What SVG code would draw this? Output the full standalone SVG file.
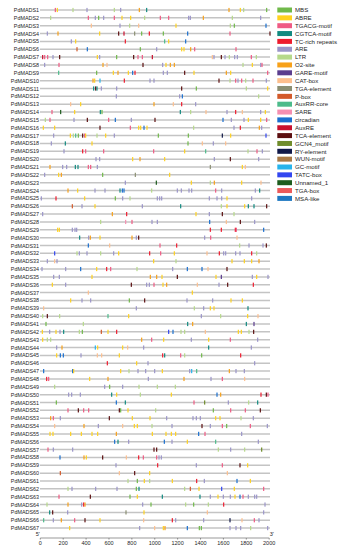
<svg xmlns="http://www.w3.org/2000/svg" xmlns:xlink="http://www.w3.org/1999/xlink" width="341" height="550" viewBox="0 0 341 550">
<style>
text{font-family:"Liberation Sans",Arial,sans-serif;fill:#262626}
.lb{font-size:5.4px;text-anchor:end}
.lg{font-size:6.1px}
.ax{font-size:5.5px;text-anchor:middle}
.bl{stroke:#c4c4c4;stroke-width:1.5}
.axl{stroke:#555;stroke-width:0.6;fill:none}
.G{fill:#70b94a}.Y{fill:#ffd21f}.PK{fill:#ef5b84}.T{fill:#128a80}.R{fill:#ee1c2e}
.L{fill:#9b95c9}.LG{fill:#b6d98a}.O{fill:#f7a11a}.DP{fill:#5b3d8e}.PE{fill:#fdbf8e}
.GO{fill:#8b8f73}.PB{fill:#d35a2a}.M{fill:#4dbb8b}.SP{fill:#f48fb1}.B{fill:#1a6fcf}
.DR{fill:#c8102e}.MA{fill:#5c0f10}.OL{fill:#6f8c2b}.N{fill:#101848}.W{fill:#a97a46}
.LB{fill:#27b4ec}.BB{fill:#3346f0}.DG{fill:#1d5c1d}.S{fill:#ec5a5a}.MB{fill:#1f78c1}
</style>
<defs>
<rect id="m" x="-1.8" y="-2.1" width="3.6" height="4.2"/>
<path id="ln" d="M40 0H270"/>
</defs>
<g id="rows">
<g id="PdMADS1" transform="translate(0,10)"><text class="lb" x="39" y="2">PdMADS1</text><use xlink:href="#ln" class="bl"/><g transform="translate(38,0) scale(0.33333,1)"><use xlink:href="#m" x="52" class="PK"/><use xlink:href="#m" x="58" class="Y"/><use xlink:href="#m" x="105" class="LG"/><use xlink:href="#m" x="147" class="L"/><use xlink:href="#m" x="229" class="LG"/><use xlink:href="#m" x="248" class="L"/><use xlink:href="#m" x="304" class="O"/><use xlink:href="#m" x="326" class="T"/><use xlink:href="#m" x="573" class="O"/><use xlink:href="#m" x="607" class="Y"/><use xlink:href="#m" x="617" class="LG"/><use xlink:href="#m" x="686" class="G"/></g></g>
<g id="PdMADS2" transform="translate(0,17.85)"><text class="lb" x="39" y="2">PdMADS2</text><use xlink:href="#ln" class="bl"/><g transform="translate(38,0) scale(0.33333,1)"><use xlink:href="#m" x="38" class="LG"/><use xlink:href="#m" x="151" class="PK"/><use xlink:href="#m" x="172" class="L"/><use xlink:href="#m" x="182" class="G"/><use xlink:href="#m" x="197" class="L"/><use xlink:href="#m" x="229" class="PK"/><use xlink:href="#m" x="252" class="Y"/><use xlink:href="#m" x="278" class="Y"/><use xlink:href="#m" x="320" class="LG"/><use xlink:href="#m" x="367" class="PK"/><use xlink:href="#m" x="392" class="PK"/><use xlink:href="#m" x="452" class="L"/><use xlink:href="#m" x="457" class="L"/><use xlink:href="#m" x="496" class="O"/><use xlink:href="#m" x="583" class="LG"/><use xlink:href="#m" x="668" class="L"/></g></g>
<g id="PdMADS3" transform="translate(0,25.7)"><text class="lb" x="39" y="2">PdMADS3</text><use xlink:href="#ln" class="bl"/><g transform="translate(38,0) scale(0.33333,1)"><use xlink:href="#m" x="160" class="PE"/><use xlink:href="#m" x="246" class="L"/><use xlink:href="#m" x="275" class="LG"/><use xlink:href="#m" x="302" class="PE"/><use xlink:href="#m" x="414" class="Y"/><use xlink:href="#m" x="577" class="LG"/><use xlink:href="#m" x="589" class="G"/><use xlink:href="#m" x="684" class="B"/></g></g>
<g id="PdMADS4" transform="translate(0,33.55)"><text class="lb" x="39" y="2">PdMADS4</text><use xlink:href="#ln" class="bl"/><g transform="translate(38,0) scale(0.33333,1)"><use xlink:href="#m" x="28" class="L"/><use xlink:href="#m" x="60" class="O"/><use xlink:href="#m" x="185" class="Y"/><use xlink:href="#m" x="242" class="MA"/><use xlink:href="#m" x="258" class="DR"/><use xlink:href="#m" x="290" class="GO"/><use xlink:href="#m" x="311" class="G"/><use xlink:href="#m" x="334" class="R"/><use xlink:href="#m" x="376" class="G"/><use xlink:href="#m" x="449" class="B"/><use xlink:href="#m" x="576" class="PK"/><use xlink:href="#m" x="696" class="MA"/></g></g>
<g id="PdMADS5" transform="translate(0,41.4)"><text class="lb" x="39" y="2">PdMADS5</text><use xlink:href="#ln" class="bl"/><g transform="translate(38,0) scale(0.33333,1)"><use xlink:href="#m" x="100" class="L"/><use xlink:href="#m" x="113" class="Y"/><use xlink:href="#m" x="262" class="R"/><use xlink:href="#m" x="380" class="M"/><use xlink:href="#m" x="392" class="Y"/><use xlink:href="#m" x="443" class="B"/></g></g>
<g id="PdMADS6" transform="translate(0,49.25)"><text class="lb" x="39" y="2">PdMADS6</text><use xlink:href="#ln" class="bl"/><g transform="translate(38,0) scale(0.33333,1)"><use xlink:href="#m" x="117" class="PB"/><use xlink:href="#m" x="148" class="B"/><use xlink:href="#m" x="307" class="G"/><use xlink:href="#m" x="356" class="L"/><use xlink:href="#m" x="431" class="Y"/><use xlink:href="#m" x="438" class="Y"/><use xlink:href="#m" x="458" class="O"/><use xlink:href="#m" x="470" class="PK"/><use xlink:href="#m" x="594" class="PK"/></g></g>
<g id="PdMADS7" transform="translate(0,57.1)"><text class="lb" x="39" y="2">PdMADS7</text><use xlink:href="#ln" class="bl"/><g transform="translate(38,0) scale(0.33333,1)"><use xlink:href="#m" x="14" class="DR"/><use xlink:href="#m" x="20" class="PK"/><use xlink:href="#m" x="29" class="PK"/><use xlink:href="#m" x="45" class="L"/><use xlink:href="#m" x="65" class="MA"/><use xlink:href="#m" x="178" class="Y"/><use xlink:href="#m" x="185" class="L"/><use xlink:href="#m" x="236" class="G"/><use xlink:href="#m" x="287" class="MA"/><use xlink:href="#m" x="300" class="PK"/><use xlink:href="#m" x="313" class="PK"/><use xlink:href="#m" x="343" class="DR"/><use xlink:href="#m" x="523" class="PE"/><use xlink:href="#m" x="528" class="L"/><use xlink:href="#m" x="550" class="MA"/><use xlink:href="#m" x="561" class="L"/><use xlink:href="#m" x="574" class="LG"/><use xlink:href="#m" x="590" class="L"/><use xlink:href="#m" x="598" class="L"/><use xlink:href="#m" x="640" class="PK"/><use xlink:href="#m" x="655" class="LG"/></g></g>
<g id="PdMADS8" transform="translate(0,64.95)"><text class="lb" x="39" y="2">PdMADS8</text><use xlink:href="#ln" class="bl"/><g transform="translate(38,0) scale(0.33333,1)"><use xlink:href="#m" x="20" class="L"/><use xlink:href="#m" x="63" class="PK"/><use xlink:href="#m" x="195" class="O"/><use xlink:href="#m" x="207" class="PE"/><use xlink:href="#m" x="315" class="MA"/><use xlink:href="#m" x="374" class="L"/><use xlink:href="#m" x="384" class="Y"/><use xlink:href="#m" x="397" class="O"/><use xlink:href="#m" x="409" class="O"/><use xlink:href="#m" x="615" class="LG"/><use xlink:href="#m" x="643" class="Y"/><use xlink:href="#m" x="668" class="L"/><use xlink:href="#m" x="672" class="PK"/></g></g>
<g id="PdMADS9" transform="translate(0,72.8)"><text class="lb" x="39" y="2">PdMADS9</text><use xlink:href="#ln" class="bl"/><g transform="translate(38,0) scale(0.33333,1)"><use xlink:href="#m" x="62" class="M"/><use xlink:href="#m" x="176" class="G"/><use xlink:href="#m" x="226" class="Y"/><use xlink:href="#m" x="240" class="O"/><use xlink:href="#m" x="271" class="Y"/><use xlink:href="#m" x="284" class="B"/><use xlink:href="#m" x="291" class="R"/><use xlink:href="#m" x="376" class="L"/><use xlink:href="#m" x="388" class="L"/><use xlink:href="#m" x="440" class="MA"/><use xlink:href="#m" x="468" class="Y"/><use xlink:href="#m" x="565" class="O"/><use xlink:href="#m" x="578" class="Y"/><use xlink:href="#m" x="689" class="PK"/></g></g>
<g id="PdMADS10" transform="translate(0,80.65)"><text class="lb" x="39" y="2">PdMADS10</text><use xlink:href="#ln" class="bl"/><g transform="translate(38,0) scale(0.33333,1)"><use xlink:href="#m" x="165" class="O"/><use xlink:href="#m" x="170" class="Y"/><use xlink:href="#m" x="186" class="LB"/><use xlink:href="#m" x="259" class="R"/><use xlink:href="#m" x="336" class="L"/><use xlink:href="#m" x="348" class="L"/><use xlink:href="#m" x="543" class="MA"/><use xlink:href="#m" x="576" class="LG"/><use xlink:href="#m" x="593" class="PK"/><use xlink:href="#m" x="600" class="L"/><use xlink:href="#m" x="611" class="PK"/><use xlink:href="#m" x="623" class="LG"/><use xlink:href="#m" x="645" class="PK"/><use xlink:href="#m" x="685" class="L"/></g></g>
<g id="PdMADS11" transform="translate(0,88.5)"><text class="lb" x="39" y="2">PdMADS11</text><use xlink:href="#ln" class="bl"/><g transform="translate(38,0) scale(0.33333,1)"><use xlink:href="#m" x="167" class="T"/><use xlink:href="#m" x="173" class="MA"/><use xlink:href="#m" x="177" class="T"/><use xlink:href="#m" x="190" class="L"/><use xlink:href="#m" x="236" class="L"/><use xlink:href="#m" x="431" class="MA"/><use xlink:href="#m" x="475" class="G"/><use xlink:href="#m" x="625" class="LG"/><use xlink:href="#m" x="689" class="Y"/></g></g>
<g id="PdMADS12" transform="translate(0,96.35)"><text class="lb" x="39" y="2">PdMADS12</text><use xlink:href="#ln" class="bl"/><g transform="translate(38,0) scale(0.33333,1)"><use xlink:href="#m" x="235" class="L"/><use xlink:href="#m" x="425" class="L"/><use xlink:href="#m" x="433" class="B"/><use xlink:href="#m" x="662" class="LG"/></g></g>
<g id="PdMADS13" transform="translate(0,104.2)"><text class="lb" x="39" y="2">PdMADS13</text><use xlink:href="#ln" class="bl"/><g transform="translate(38,0) scale(0.33333,1)"><use xlink:href="#m" x="98" class="PE"/><use xlink:href="#m" x="128" class="Y"/><use xlink:href="#m" x="348" class="O"/><use xlink:href="#m" x="406" class="PE"/><use xlink:href="#m" x="431" class="R"/><use xlink:href="#m" x="473" class="L"/></g></g>
<g id="PdMADS14" transform="translate(0,112.05)"><text class="lb" x="39" y="2">PdMADS14</text><use xlink:href="#ln" class="bl"/><g transform="translate(38,0) scale(0.33333,1)"><use xlink:href="#m" x="42" class="PK"/><use xlink:href="#m" x="68" class="DG"/><use xlink:href="#m" x="110" class="Y"/><use xlink:href="#m" x="187" class="T"/><use xlink:href="#m" x="192" class="G"/><use xlink:href="#m" x="427" class="T"/><use xlink:href="#m" x="458" class="LG"/><use xlink:href="#m" x="504" class="PE"/><use xlink:href="#m" x="567" class="L"/><use xlink:href="#m" x="593" class="R"/><use xlink:href="#m" x="613" class="PE"/><use xlink:href="#m" x="668" class="L"/><use xlink:href="#m" x="682" class="Y"/></g></g>
<g id="PdMADS15" transform="translate(0,119.9)"><text class="lb" x="39" y="2">PdMADS15</text><use xlink:href="#ln" class="bl"/><g transform="translate(38,0) scale(0.33333,1)"><use xlink:href="#m" x="22" class="LG"/><use xlink:href="#m" x="36" class="PK"/><use xlink:href="#m" x="108" class="L"/><use xlink:href="#m" x="148" class="MA"/><use xlink:href="#m" x="212" class="PK"/><use xlink:href="#m" x="232" class="B"/><use xlink:href="#m" x="280" class="L"/><use xlink:href="#m" x="351" class="MA"/><use xlink:href="#m" x="555" class="B"/><use xlink:href="#m" x="580" class="L"/><use xlink:href="#m" x="618" class="L"/><use xlink:href="#m" x="631" class="Y"/><use xlink:href="#m" x="668" class="Y"/><use xlink:href="#m" x="686" class="PK"/></g></g>
<g id="PdMADS16" transform="translate(0,127.75)"><text class="lb" x="39" y="2">PdMADS16</text><use xlink:href="#ln" class="bl"/><g transform="translate(38,0) scale(0.33333,1)"><use xlink:href="#m" x="16" class="Y"/><use xlink:href="#m" x="50" class="Y"/><use xlink:href="#m" x="186" class="MA"/><use xlink:href="#m" x="277" class="PK"/><use xlink:href="#m" x="302" class="Y"/><use xlink:href="#m" x="308" class="Y"/><use xlink:href="#m" x="318" class="B"/><use xlink:href="#m" x="327" class="Y"/><use xlink:href="#m" x="467" class="LG"/><use xlink:href="#m" x="588" class="L"/><use xlink:href="#m" x="607" class="R"/><use xlink:href="#m" x="664" class="O"/><use xlink:href="#m" x="671" class="L"/></g></g>
<g id="PdMADS17" transform="translate(0,135.6)"><text class="lb" x="39" y="2">PdMADS17</text><use xlink:href="#ln" class="bl"/><g transform="translate(38,0) scale(0.33333,1)"><use xlink:href="#m" x="47" class="L"/><use xlink:href="#m" x="97" class="Y"/><use xlink:href="#m" x="106" class="LG"/><use xlink:href="#m" x="113" class="M"/><use xlink:href="#m" x="121" class="G"/><use xlink:href="#m" x="134" class="MA"/><use xlink:href="#m" x="140" class="PK"/><use xlink:href="#m" x="143" class="Y"/><use xlink:href="#m" x="177" class="LG"/><use xlink:href="#m" x="203" class="Y"/><use xlink:href="#m" x="229" class="L"/><use xlink:href="#m" x="361" class="G"/><use xlink:href="#m" x="451" class="G"/><use xlink:href="#m" x="553" class="N"/><use xlink:href="#m" x="578" class="Y"/><use xlink:href="#m" x="684" class="BB"/></g></g>
<g id="PdMADS18" transform="translate(0,143.45)"><text class="lb" x="39" y="2">PdMADS18</text><use xlink:href="#ln" class="bl"/><g transform="translate(38,0) scale(0.33333,1)"><use xlink:href="#m" x="40" class="L"/><use xlink:href="#m" x="82" class="T"/><use xlink:href="#m" x="162" class="Y"/><use xlink:href="#m" x="450" class="G"/><use xlink:href="#m" x="493" class="PE"/><use xlink:href="#m" x="526" class="L"/><use xlink:href="#m" x="563" class="PE"/></g></g>
<g id="PdMADS19" transform="translate(0,151.3)"><text class="lb" x="39" y="2">PdMADS19</text><use xlink:href="#ln" class="bl"/><g transform="translate(38,0) scale(0.33333,1)"><use xlink:href="#m" x="78" class="L"/><use xlink:href="#m" x="134" class="R"/><use xlink:href="#m" x="143" class="PK"/><use xlink:href="#m" x="197" class="PK"/><use xlink:href="#m" x="347" class="PK"/><use xlink:href="#m" x="440" class="Y"/><use xlink:href="#m" x="503" class="M"/><use xlink:href="#m" x="630" class="LG"/><use xlink:href="#m" x="657" class="PK"/><use xlink:href="#m" x="673" class="L"/></g></g>
<g id="PdMADS20" transform="translate(0,159.15)"><text class="lb" x="39" y="2">PdMADS20</text><use xlink:href="#ln" class="bl"/><g transform="translate(38,0) scale(0.33333,1)"><use xlink:href="#m" x="174" class="L"/><use xlink:href="#m" x="185" class="L"/><use xlink:href="#m" x="284" class="Y"/><use xlink:href="#m" x="306" class="O"/><use xlink:href="#m" x="380" class="Y"/><use xlink:href="#m" x="529" class="L"/><use xlink:href="#m" x="577" class="MA"/><use xlink:href="#m" x="662" class="L"/></g></g>
<g id="PdMADS21" transform="translate(0,167)"><text class="lb" x="39" y="2">PdMADS21</text><use xlink:href="#ln" class="bl"/><g transform="translate(38,0) scale(0.33333,1)"><use xlink:href="#m" x="36" class="O"/><use xlink:href="#m" x="74" class="L"/><use xlink:href="#m" x="86" class="L"/><use xlink:href="#m" x="112" class="T"/><use xlink:href="#m" x="120" class="T"/><use xlink:href="#m" x="151" class="PK"/><use xlink:href="#m" x="158" class="PK"/><use xlink:href="#m" x="178" class="L"/><use xlink:href="#m" x="517" class="GO"/><use xlink:href="#m" x="613" class="Y"/><use xlink:href="#m" x="622" class="PE"/></g></g>
<g id="PdMADS22" transform="translate(0,174.85)"><text class="lb" x="39" y="2">PdMADS22</text><use xlink:href="#ln" class="bl"/><g transform="translate(38,0) scale(0.33333,1)"><use xlink:href="#m" x="20" class="L"/><use xlink:href="#m" x="62" class="Y"/><use xlink:href="#m" x="70" class="O"/><use xlink:href="#m" x="194" class="G"/><use xlink:href="#m" x="292" class="GO"/><use xlink:href="#m" x="395" class="Y"/></g></g>
<g id="PdMADS23" transform="translate(0,182.7)"><text class="lb" x="39" y="2">PdMADS23</text><use xlink:href="#ln" class="bl"/><g transform="translate(38,0) scale(0.33333,1)"><use xlink:href="#m" x="262" class="L"/><use xlink:href="#m" x="355" class="DG"/><use xlink:href="#m" x="460" class="Y"/><use xlink:href="#m" x="517" class="LG"/><use xlink:href="#m" x="529" class="O"/><use xlink:href="#m" x="611" class="Y"/><use xlink:href="#m" x="669" class="PE"/></g></g>
<g id="PdMADS24" transform="translate(0,190.55)"><text class="lb" x="39" y="2">PdMADS24</text><use xlink:href="#ln" class="bl"/><g transform="translate(38,0) scale(0.33333,1)"><use xlink:href="#m" x="90" class="O"/><use xlink:href="#m" x="119" class="Y"/><use xlink:href="#m" x="171" class="L"/><use xlink:href="#m" x="201" class="L"/><use xlink:href="#m" x="246" class="T"/><use xlink:href="#m" x="253" class="B"/><use xlink:href="#m" x="258" class="B"/><use xlink:href="#m" x="341" class="LG"/><use xlink:href="#m" x="418" class="L"/><use xlink:href="#m" x="430" class="L"/><use xlink:href="#m" x="453" class="L"/><use xlink:href="#m" x="461" class="L"/><use xlink:href="#m" x="533" class="PK"/><use xlink:href="#m" x="551" class="L"/><use xlink:href="#m" x="652" class="L"/><use xlink:href="#m" x="665" class="T"/></g></g>
<g id="PdMADS25" transform="translate(0,198.4)"><text class="lb" x="39" y="2">PdMADS25</text><use xlink:href="#ln" class="bl"/><g transform="translate(38,0) scale(0.33333,1)"><use xlink:href="#m" x="10" class="L"/><use xlink:href="#m" x="54" class="R"/><use xlink:href="#m" x="140" class="Y"/><use xlink:href="#m" x="232" class="G"/><use xlink:href="#m" x="254" class="L"/><use xlink:href="#m" x="276" class="LG"/><use xlink:href="#m" x="358" class="L"/><use xlink:href="#m" x="365" class="L"/><use xlink:href="#m" x="371" class="L"/><use xlink:href="#m" x="514" class="L"/><use xlink:href="#m" x="537" class="L"/><use xlink:href="#m" x="551" class="L"/><use xlink:href="#m" x="567" class="Y"/><use xlink:href="#m" x="641" class="L"/></g></g>
<g id="PdMADS26" transform="translate(0,206.25)"><text class="lb" x="39" y="2">PdMADS26</text><use xlink:href="#ln" class="bl"/><g transform="translate(38,0) scale(0.33333,1)"><use xlink:href="#m" x="103" class="PB"/><use xlink:href="#m" x="132" class="L"/><use xlink:href="#m" x="171" class="Y"/><use xlink:href="#m" x="313" class="L"/><use xlink:href="#m" x="428" class="T"/><use xlink:href="#m" x="550" class="LG"/><use xlink:href="#m" x="567" class="Y"/><use xlink:href="#m" x="620" class="Y"/><use xlink:href="#m" x="631" class="T"/><use xlink:href="#m" x="648" class="T"/><use xlink:href="#m" x="686" class="MA"/></g></g>
<g id="PdMADS27" transform="translate(0,214.1)"><text class="lb" x="39" y="2">PdMADS27</text><use xlink:href="#ln" class="bl"/><g transform="translate(38,0) scale(0.33333,1)"><use xlink:href="#m" x="14" class="L"/><use xlink:href="#m" x="223" class="O"/><use xlink:href="#m" x="266" class="R"/><use xlink:href="#m" x="474" class="Y"/><use xlink:href="#m" x="514" class="L"/><use xlink:href="#m" x="553" class="MA"/><use xlink:href="#m" x="588" class="LG"/></g></g>
<g id="PdMADS28" transform="translate(0,221.95)"><text class="lb" x="39" y="2">PdMADS28</text><use xlink:href="#ln" class="bl"/><g transform="translate(38,0) scale(0.33333,1)"><use xlink:href="#m" x="188" class="LG"/><use xlink:href="#m" x="263" class="SP"/><use xlink:href="#m" x="282" class="PK"/><use xlink:href="#m" x="342" class="L"/><use xlink:href="#m" x="358" class="L"/><use xlink:href="#m" x="515" class="B"/><use xlink:href="#m" x="565" class="PE"/><use xlink:href="#m" x="607" class="MA"/><use xlink:href="#m" x="650" class="L"/></g></g>
<g id="PdMADS29" transform="translate(0,229.8)"><text class="lb" x="39" y="2">PdMADS29</text><use xlink:href="#ln" class="bl"/><g transform="translate(38,0) scale(0.33333,1)"><use xlink:href="#m" x="59" class="Y"/><use xlink:href="#m" x="64" class="Y"/><use xlink:href="#m" x="103" class="L"/><use xlink:href="#m" x="111" class="L"/><use xlink:href="#m" x="116" class="L"/><use xlink:href="#m" x="517" class="R"/><use xlink:href="#m" x="550" class="R"/><use xlink:href="#m" x="592" class="R"/><use xlink:href="#m" x="595" class="PK"/><use xlink:href="#m" x="677" class="B"/></g></g>
<g id="PdMADS30" transform="translate(0,237.65)"><text class="lb" x="39" y="2">PdMADS30</text><use xlink:href="#ln" class="bl"/><g transform="translate(38,0) scale(0.33333,1)"><use xlink:href="#m" x="125" class="T"/><use xlink:href="#m" x="152" class="L"/><use xlink:href="#m" x="157" class="O"/><use xlink:href="#m" x="186" class="Y"/><use xlink:href="#m" x="282" class="O"/><use xlink:href="#m" x="295" class="L"/><use xlink:href="#m" x="302" class="MA"/><use xlink:href="#m" x="500" class="L"/><use xlink:href="#m" x="518" class="PK"/><use xlink:href="#m" x="597" class="PE"/></g></g>
<g id="PdMADS31" transform="translate(0,245.5)"><text class="lb" x="39" y="2">PdMADS31</text><use xlink:href="#ln" class="bl"/><g transform="translate(38,0) scale(0.33333,1)"><use xlink:href="#m" x="151" class="B"/><use xlink:href="#m" x="215" class="PE"/><use xlink:href="#m" x="366" class="PK"/><use xlink:href="#m" x="416" class="R"/><use xlink:href="#m" x="605" class="LG"/><use xlink:href="#m" x="633" class="L"/><use xlink:href="#m" x="675" class="L"/><use xlink:href="#m" x="685" class="MA"/></g></g>
<g id="PdMADS32" transform="translate(0,253.35)"><text class="lb" x="39" y="2">PdMADS32</text><use xlink:href="#ln" class="bl"/><g transform="translate(38,0) scale(0.33333,1)"><use xlink:href="#m" x="50" class="BB"/><use xlink:href="#m" x="117" class="LG"/><use xlink:href="#m" x="124" class="L"/><use xlink:href="#m" x="147" class="L"/><use xlink:href="#m" x="188" class="LG"/><use xlink:href="#m" x="227" class="L"/><use xlink:href="#m" x="242" class="Y"/><use xlink:href="#m" x="335" class="R"/><use xlink:href="#m" x="368" class="PK"/><use xlink:href="#m" x="409" class="Y"/><use xlink:href="#m" x="507" class="PE"/><use xlink:href="#m" x="544" class="R"/><use xlink:href="#m" x="557" class="L"/><use xlink:href="#m" x="563" class="L"/><use xlink:href="#m" x="593" class="L"/><use xlink:href="#m" x="606" class="L"/><use xlink:href="#m" x="641" class="R"/><use xlink:href="#m" x="656" class="LG"/></g></g>
<g id="PdMADS33" transform="translate(0,261.2)"><text class="lb" x="39" y="2">PdMADS33</text><use xlink:href="#ln" class="bl"/><g transform="translate(38,0) scale(0.33333,1)"><use xlink:href="#m" x="28" class="L"/><use xlink:href="#m" x="50" class="PE"/><use xlink:href="#m" x="57" class="L"/><use xlink:href="#m" x="347" class="Y"/><use xlink:href="#m" x="414" class="LG"/><use xlink:href="#m" x="582" class="Y"/><use xlink:href="#m" x="619" class="Y"/><use xlink:href="#m" x="641" class="Y"/><use xlink:href="#m" x="663" class="O"/></g></g>
<g id="PdMADS34" transform="translate(0,269.05)"><text class="lb" x="39" y="2">PdMADS34</text><use xlink:href="#ln" class="bl"/><g transform="translate(38,0) scale(0.33333,1)"><use xlink:href="#m" x="12" class="L"/><use xlink:href="#m" x="83" class="L"/><use xlink:href="#m" x="128" class="B"/><use xlink:href="#m" x="176" class="Y"/><use xlink:href="#m" x="206" class="R"/><use xlink:href="#m" x="218" class="PK"/><use xlink:href="#m" x="297" class="LG"/><use xlink:href="#m" x="404" class="L"/><use xlink:href="#m" x="448" class="B"/><use xlink:href="#m" x="492" class="B"/><use xlink:href="#m" x="510" class="PE"/><use xlink:href="#m" x="567" class="MA"/></g></g>
<g id="PdMADS35" transform="translate(0,276.9)"><text class="lb" x="39" y="2">PdMADS35</text><use xlink:href="#ln" class="bl"/><g transform="translate(38,0) scale(0.33333,1)"><use xlink:href="#m" x="47" class="L"/><use xlink:href="#m" x="64" class="L"/><use xlink:href="#m" x="162" class="Y"/><use xlink:href="#m" x="337" class="O"/><use xlink:href="#m" x="356" class="O"/><use xlink:href="#m" x="372" class="Y"/><use xlink:href="#m" x="418" class="MA"/><use xlink:href="#m" x="534" class="Y"/><use xlink:href="#m" x="550" class="DP"/><use xlink:href="#m" x="643" class="L"/><use xlink:href="#m" x="656" class="Y"/><use xlink:href="#m" x="690" class="L"/></g></g>
<g id="PdMADS36" transform="translate(0,284.75)"><text class="lb" x="39" y="2">PdMADS36</text><use xlink:href="#ln" class="bl"/><g transform="translate(38,0) scale(0.33333,1)"><use xlink:href="#m" x="43" class="Y"/><use xlink:href="#m" x="83" class="L"/><use xlink:href="#m" x="280" class="MA"/><use xlink:href="#m" x="326" class="L"/><use xlink:href="#m" x="334" class="L"/><use xlink:href="#m" x="348" class="PK"/><use xlink:href="#m" x="375" class="Y"/><use xlink:href="#m" x="386" class="O"/><use xlink:href="#m" x="478" class="PE"/><use xlink:href="#m" x="543" class="L"/><use xlink:href="#m" x="569" class="MA"/><use xlink:href="#m" x="646" class="R"/></g></g>
<g id="PdMADS37" transform="translate(0,292.6)"><text class="lb" x="39" y="2">PdMADS37</text><use xlink:href="#ln" class="bl"/><g transform="translate(38,0) scale(0.33333,1)"><use xlink:href="#m" x="151" class="PE"/><use xlink:href="#m" x="463" class="Y"/></g></g>
<g id="PdMADS38" transform="translate(0,300.45)"><text class="lb" x="39" y="2">PdMADS38</text><use xlink:href="#ln" class="bl"/><g transform="translate(38,0) scale(0.33333,1)"><use xlink:href="#m" x="98" class="Y"/><use xlink:href="#m" x="132" class="L"/><use xlink:href="#m" x="158" class="L"/><use xlink:href="#m" x="274" class="G"/><use xlink:href="#m" x="320" class="MA"/><use xlink:href="#m" x="447" class="L"/><use xlink:href="#m" x="524" class="L"/><use xlink:href="#m" x="579" class="Y"/><use xlink:href="#m" x="613" class="Y"/></g></g>
<g id="PdMADS39" transform="translate(0,308.3)"><text class="lb" x="39" y="2">PdMADS39</text><use xlink:href="#ln" class="bl"/><g transform="translate(38,0) scale(0.33333,1)"><use xlink:href="#m" x="17" class="PE"/><use xlink:href="#m" x="295" class="L"/><use xlink:href="#m" x="469" class="LG"/><use xlink:href="#m" x="497" class="L"/><use xlink:href="#m" x="517" class="Y"/><use xlink:href="#m" x="528" class="Y"/><use xlink:href="#m" x="630" class="T"/></g></g>
<g id="PdMADS40" transform="translate(0,316.15)"><text class="lb" x="39" y="2">PdMADS40</text><use xlink:href="#ln" class="bl"/><g transform="translate(38,0) scale(0.33333,1)"><use xlink:href="#m" x="14" class="LG"/><use xlink:href="#m" x="28" class="MA"/><use xlink:href="#m" x="65" class="LG"/><use xlink:href="#m" x="210" class="M"/><use xlink:href="#m" x="272" class="Y"/><use xlink:href="#m" x="490" class="L"/><use xlink:href="#m" x="548" class="LG"/><use xlink:href="#m" x="629" class="Y"/><use xlink:href="#m" x="660" class="PE"/></g></g>
<g id="PdMADS41" transform="translate(0,324)"><text class="lb" x="39" y="2">PdMADS41</text><use xlink:href="#ln" class="bl"/><g transform="translate(38,0) scale(0.33333,1)"><use xlink:href="#m" x="24" class="G"/><use xlink:href="#m" x="136" class="LG"/><use xlink:href="#m" x="449" class="T"/><use xlink:href="#m" x="464" class="O"/><use xlink:href="#m" x="625" class="T"/><use xlink:href="#m" x="648" class="DP"/></g></g>
<g id="PdMADS42" transform="translate(0,331.85)"><text class="lb" x="39" y="2">PdMADS42</text><use xlink:href="#ln" class="bl"/><g transform="translate(38,0) scale(0.33333,1)"><use xlink:href="#m" x="13" class="Y"/><use xlink:href="#m" x="35" class="L"/><use xlink:href="#m" x="54" class="Y"/><use xlink:href="#m" x="66" class="L"/><use xlink:href="#m" x="77" class="T"/><use xlink:href="#m" x="124" class="LG"/><use xlink:href="#m" x="133" class="G"/><use xlink:href="#m" x="190" class="PB"/><use xlink:href="#m" x="210" class="Y"/><use xlink:href="#m" x="236" class="R"/><use xlink:href="#m" x="392" class="BB"/><use xlink:href="#m" x="405" class="B"/><use xlink:href="#m" x="429" class="LG"/><use xlink:href="#m" x="440" class="LG"/><use xlink:href="#m" x="502" class="PE"/><use xlink:href="#m" x="601" class="Y"/><use xlink:href="#m" x="610" class="Y"/><use xlink:href="#m" x="633" class="LG"/><use xlink:href="#m" x="647" class="MA"/></g></g>
<g id="PdMADS43" transform="translate(0,339.7)"><text class="lb" x="39" y="2">PdMADS43</text><use xlink:href="#ln" class="bl"/><g transform="translate(38,0) scale(0.33333,1)"><use xlink:href="#m" x="14" class="Y"/><use xlink:href="#m" x="28" class="LG"/><use xlink:href="#m" x="38" class="LG"/><use xlink:href="#m" x="311" class="O"/><use xlink:href="#m" x="341" class="PK"/><use xlink:href="#m" x="377" class="Y"/><use xlink:href="#m" x="460" class="L"/><use xlink:href="#m" x="512" class="Y"/><use xlink:href="#m" x="577" class="PK"/><use xlink:href="#m" x="659" class="L"/></g></g>
<g id="PdMADS44" transform="translate(0,347.55)"><text class="lb" x="39" y="2">PdMADS44</text><use xlink:href="#ln" class="bl"/><g transform="translate(38,0) scale(0.33333,1)"><use xlink:href="#m" x="56" class="L"/><use xlink:href="#m" x="72" class="O"/><use xlink:href="#m" x="172" class="LB"/><use xlink:href="#m" x="179" class="Y"/><use xlink:href="#m" x="254" class="Y"/><use xlink:href="#m" x="269" class="PE"/><use xlink:href="#m" x="317" class="L"/><use xlink:href="#m" x="512" class="T"/><use xlink:href="#m" x="640" class="L"/></g></g>
<g id="PdMADS45" transform="translate(0,355.4)"><text class="lb" x="39" y="2">PdMADS45</text><use xlink:href="#ln" class="bl"/><g transform="translate(38,0) scale(0.33333,1)"><use xlink:href="#m" x="56" class="Y"/><use xlink:href="#m" x="67" class="B"/><use xlink:href="#m" x="76" class="B"/><use xlink:href="#m" x="129" class="L"/><use xlink:href="#m" x="178" class="PE"/><use xlink:href="#m" x="191" class="PE"/><use xlink:href="#m" x="244" class="Y"/><use xlink:href="#m" x="374" class="R"/><use xlink:href="#m" x="380" class="T"/><use xlink:href="#m" x="428" class="PK"/><use xlink:href="#m" x="440" class="LG"/><use xlink:href="#m" x="491" class="G"/><use xlink:href="#m" x="608" class="R"/></g></g>
<g id="PdMADS46" transform="translate(0,363.25)"><text class="lb" x="39" y="2">PdMADS46</text><use xlink:href="#ln" class="bl"/><g transform="translate(38,0) scale(0.33333,1)"><use xlink:href="#m" x="208" class="R"/><use xlink:href="#m" x="296" class="Y"/><use xlink:href="#m" x="330" class="L"/><use xlink:href="#m" x="650" class="L"/></g></g>
<g id="PdMADS47" transform="translate(0,371.1)"><text class="lb" x="39" y="2">PdMADS47</text><use xlink:href="#ln" class="bl"/><g transform="translate(38,0) scale(0.33333,1)"><use xlink:href="#m" x="17" class="B"/><use xlink:href="#m" x="104" class="B"/><use xlink:href="#m" x="107" class="Y"/><use xlink:href="#m" x="248" class="Y"/><use xlink:href="#m" x="273" class="LG"/><use xlink:href="#m" x="300" class="L"/><use xlink:href="#m" x="323" class="L"/><use xlink:href="#m" x="350" class="L"/><use xlink:href="#m" x="373" class="Y"/><use xlink:href="#m" x="455" class="L"/><use xlink:href="#m" x="461" class="LB"/><use xlink:href="#m" x="476" class="M"/><use xlink:href="#m" x="574" class="O"/><use xlink:href="#m" x="594" class="L"/><use xlink:href="#m" x="619" class="L"/></g></g>
<g id="PdMADS48" transform="translate(0,378.95)"><text class="lb" x="39" y="2">PdMADS48</text><use xlink:href="#ln" class="bl"/><g transform="translate(38,0) scale(0.33333,1)"><use xlink:href="#m" x="26" class="R"/><use xlink:href="#m" x="32" class="PK"/><use xlink:href="#m" x="155" class="Y"/><use xlink:href="#m" x="210" class="O"/><use xlink:href="#m" x="331" class="L"/><use xlink:href="#m" x="438" class="O"/><use xlink:href="#m" x="519" class="L"/><use xlink:href="#m" x="553" class="PK"/><use xlink:href="#m" x="620" class="PE"/></g></g>
<g id="PdMADS49" transform="translate(0,386.8)"><text class="lb" x="39" y="2">PdMADS49</text><use xlink:href="#ln" class="bl"/><g transform="translate(38,0) scale(0.33333,1)"><use xlink:href="#m" x="50" class="LG"/><use xlink:href="#m" x="200" class="L"/><use xlink:href="#m" x="215" class="G"/><use xlink:href="#m" x="254" class="L"/><use xlink:href="#m" x="303" class="LG"/><use xlink:href="#m" x="358" class="LG"/><use xlink:href="#m" x="412" class="LG"/></g></g>
<g id="PdMADS50" transform="translate(0,394.65)"><text class="lb" x="39" y="2">PdMADS50</text><use xlink:href="#ln" class="bl"/><g transform="translate(38,0) scale(0.33333,1)"><use xlink:href="#m" x="92" class="L"/><use xlink:href="#m" x="101" class="L"/><use xlink:href="#m" x="127" class="L"/><use xlink:href="#m" x="221" class="T"/><use xlink:href="#m" x="236" class="Y"/><use xlink:href="#m" x="307" class="LG"/><use xlink:href="#m" x="400" class="Y"/><use xlink:href="#m" x="537" class="B"/><use xlink:href="#m" x="548" class="O"/><use xlink:href="#m" x="669" class="R"/><use xlink:href="#m" x="685" class="MA"/><use xlink:href="#m" x="690" class="PK"/></g></g>
<g id="PdMADS51" transform="translate(0,402.5)"><text class="lb" x="39" y="2">PdMADS51</text><use xlink:href="#ln" class="bl"/><g transform="translate(38,0) scale(0.33333,1)"><use xlink:href="#m" x="55" class="G"/><use xlink:href="#m" x="235" class="B"/><use xlink:href="#m" x="262" class="T"/><use xlink:href="#m" x="468" class="PK"/><use xlink:href="#m" x="500" class="OL"/><use xlink:href="#m" x="571" class="L"/><use xlink:href="#m" x="632" class="LG"/><use xlink:href="#m" x="659" class="T"/></g></g>
<g id="PdMADS52" transform="translate(0,410.35)"><text class="lb" x="39" y="2">PdMADS52</text><use xlink:href="#ln" class="bl"/><g transform="translate(38,0) scale(0.33333,1)"><use xlink:href="#m" x="90" class="PK"/><use xlink:href="#m" x="121" class="MA"/><use xlink:href="#m" x="137" class="PK"/><use xlink:href="#m" x="152" class="PK"/><use xlink:href="#m" x="244" class="MA"/><use xlink:href="#m" x="248" class="G"/><use xlink:href="#m" x="270" class="Y"/><use xlink:href="#m" x="353" class="LG"/><use xlink:href="#m" x="526" class="G"/><use xlink:href="#m" x="578" class="PK"/><use xlink:href="#m" x="622" class="PK"/><use xlink:href="#m" x="667" class="MA"/></g></g>
<g id="PdMADS53" transform="translate(0,418.2)"><text class="lb" x="39" y="2">PdMADS53</text><use xlink:href="#ln" class="bl"/><g transform="translate(38,0) scale(0.33333,1)"><use xlink:href="#m" x="38" class="O"/><use xlink:href="#m" x="46" class="PK"/><use xlink:href="#m" x="67" class="L"/><use xlink:href="#m" x="214" class="MA"/><use xlink:href="#m" x="283" class="Y"/><use xlink:href="#m" x="336" class="Y"/><use xlink:href="#m" x="386" class="L"/><use xlink:href="#m" x="465" class="L"/><use xlink:href="#m" x="475" class="L"/><use xlink:href="#m" x="487" class="L"/><use xlink:href="#m" x="533" class="Y"/><use xlink:href="#m" x="546" class="Y"/><use xlink:href="#m" x="609" class="LG"/><use xlink:href="#m" x="646" class="L"/></g></g>
<g id="PdMADS54" transform="translate(0,426.05)"><text class="lb" x="39" y="2">PdMADS54</text><use xlink:href="#ln" class="bl"/><g transform="translate(38,0) scale(0.33333,1)"><use xlink:href="#m" x="50" class="PE"/><use xlink:href="#m" x="138" class="O"/><use xlink:href="#m" x="181" class="L"/><use xlink:href="#m" x="254" class="PE"/><use xlink:href="#m" x="289" class="Y"/><use xlink:href="#m" x="298" class="Y"/><use xlink:href="#m" x="342" class="LG"/><use xlink:href="#m" x="402" class="L"/><use xlink:href="#m" x="492" class="MA"/><use xlink:href="#m" x="517" class="L"/><use xlink:href="#m" x="553" class="PK"/><use xlink:href="#m" x="566" class="G"/><use xlink:href="#m" x="637" class="PK"/><use xlink:href="#m" x="688" class="L"/></g></g>
<g id="PdMADS55" transform="translate(0,433.9)"><text class="lb" x="39" y="2">PdMADS55</text><use xlink:href="#ln" class="bl"/><g transform="translate(38,0) scale(0.33333,1)"><use xlink:href="#m" x="36" class="Y"/><use xlink:href="#m" x="45" class="Y"/><use xlink:href="#m" x="98" class="Y"/><use xlink:href="#m" x="130" class="Y"/><use xlink:href="#m" x="162" class="Y"/><use xlink:href="#m" x="179" class="Y"/><use xlink:href="#m" x="235" class="O"/><use xlink:href="#m" x="343" class="Y"/><use xlink:href="#m" x="384" class="Y"/><use xlink:href="#m" x="400" class="Y"/><use xlink:href="#m" x="413" class="Y"/><use xlink:href="#m" x="482" class="B"/><use xlink:href="#m" x="501" class="PK"/><use xlink:href="#m" x="611" class="L"/></g></g>
<g id="PdMADS56" transform="translate(0,441.75)"><text class="lb" x="39" y="2">PdMADS56</text><use xlink:href="#ln" class="bl"/><g transform="translate(38,0) scale(0.33333,1)"><use xlink:href="#m" x="230" class="B"/><use xlink:href="#m" x="240" class="T"/><use xlink:href="#m" x="272" class="L"/><use xlink:href="#m" x="379" class="B"/><use xlink:href="#m" x="402" class="L"/><use xlink:href="#m" x="448" class="Y"/><use xlink:href="#m" x="533" class="M"/><use xlink:href="#m" x="661" class="L"/></g></g>
<g id="PdMADS57" transform="translate(0,449.6)"><text class="lb" x="39" y="2">PdMADS57</text><use xlink:href="#ln" class="bl"/><g transform="translate(38,0) scale(0.33333,1)"><use xlink:href="#m" x="30" class="PK"/><use xlink:href="#m" x="46" class="L"/><use xlink:href="#m" x="104" class="L"/><use xlink:href="#m" x="348" class="MA"/><use xlink:href="#m" x="356" class="MA"/><use xlink:href="#m" x="541" class="LG"/><use xlink:href="#m" x="578" class="L"/><use xlink:href="#m" x="620" class="LG"/><use xlink:href="#m" x="671" class="OL"/></g></g>
<g id="PdMADS58" transform="translate(0,457.45)"><text class="lb" x="39" y="2">PdMADS58</text><use xlink:href="#ln" class="bl"/><g transform="translate(38,0) scale(0.33333,1)"><use xlink:href="#m" x="66" class="B"/><use xlink:href="#m" x="138" class="O"/><use xlink:href="#m" x="145" class="Y"/><use xlink:href="#m" x="194" class="MA"/><use xlink:href="#m" x="265" class="PE"/><use xlink:href="#m" x="302" class="R"/><use xlink:href="#m" x="316" class="PK"/><use xlink:href="#m" x="356" class="PK"/><use xlink:href="#m" x="363" class="L"/><use xlink:href="#m" x="370" class="L"/></g></g>
<g id="PdMADS59" transform="translate(0,465.3)"><text class="lb" x="39" y="2">PdMADS59</text><use xlink:href="#ln" class="bl"/><g transform="translate(38,0) scale(0.33333,1)"><use xlink:href="#m" x="234" class="L"/><use xlink:href="#m" x="359" class="R"/><use xlink:href="#m" x="475" class="L"/><use xlink:href="#m" x="553" class="PK"/><use xlink:href="#m" x="606" class="MA"/><use xlink:href="#m" x="629" class="Y"/></g></g>
<g id="PdMADS60" transform="translate(0,473.15)"><text class="lb" x="39" y="2">PdMADS60</text><use xlink:href="#ln" class="bl"/><g transform="translate(38,0) scale(0.33333,1)"><use xlink:href="#m" x="67" class="PB"/><use xlink:href="#m" x="244" class="PE"/><use xlink:href="#m" x="290" class="MA"/><use xlink:href="#m" x="335" class="Y"/><use xlink:href="#m" x="568" class="PE"/></g></g>
<g id="PdMADS61" transform="translate(0,481)"><text class="lb" x="39" y="2">PdMADS61</text><use xlink:href="#ln" class="bl"/><g transform="translate(38,0) scale(0.33333,1)"><use xlink:href="#m" x="270" class="LG"/><use xlink:href="#m" x="298" class="G"/><use xlink:href="#m" x="319" class="Y"/><use xlink:href="#m" x="335" class="LG"/><use xlink:href="#m" x="403" class="Y"/><use xlink:href="#m" x="476" class="R"/><use xlink:href="#m" x="499" class="L"/><use xlink:href="#m" x="597" class="B"/><use xlink:href="#m" x="637" class="Y"/></g></g>
<g id="PdMADS62" transform="translate(0,488.85)"><text class="lb" x="39" y="2">PdMADS62</text><use xlink:href="#ln" class="bl"/><g transform="translate(38,0) scale(0.33333,1)"><use xlink:href="#m" x="90" class="LG"/><use xlink:href="#m" x="102" class="L"/><use xlink:href="#m" x="173" class="L"/><use xlink:href="#m" x="237" class="L"/><use xlink:href="#m" x="295" class="G"/><use xlink:href="#m" x="303" class="T"/><use xlink:href="#m" x="440" class="LG"/><use xlink:href="#m" x="457" class="PB"/><use xlink:href="#m" x="483" class="Y"/><use xlink:href="#m" x="551" class="BB"/><use xlink:href="#m" x="589" class="Y"/><use xlink:href="#m" x="677" class="PK"/></g></g>
<g id="PdMADS63" transform="translate(0,496.7)"><text class="lb" x="39" y="2">PdMADS63</text><use xlink:href="#ln" class="bl"/><g transform="translate(38,0) scale(0.33333,1)"><use xlink:href="#m" x="63" class="PK"/><use xlink:href="#m" x="157" class="MA"/><use xlink:href="#m" x="276" class="G"/><use xlink:href="#m" x="298" class="Y"/><use xlink:href="#m" x="373" class="T"/><use xlink:href="#m" x="486" class="T"/><use xlink:href="#m" x="517" class="L"/><use xlink:href="#m" x="540" class="Y"/><use xlink:href="#m" x="556" class="L"/><use xlink:href="#m" x="577" class="L"/><use xlink:href="#m" x="591" class="Y"/><use xlink:href="#m" x="606" class="B"/><use xlink:href="#m" x="615" class="PK"/><use xlink:href="#m" x="631" class="L"/><use xlink:href="#m" x="650" class="L"/><use xlink:href="#m" x="656" class="L"/></g></g>
<g id="PdMADS64" transform="translate(0,504.55)"><text class="lb" x="39" y="2">PdMADS64</text><use xlink:href="#ln" class="bl"/><g transform="translate(38,0) scale(0.33333,1)"><use xlink:href="#m" x="27" class="LG"/><use xlink:href="#m" x="90" class="O"/><use xlink:href="#m" x="131" class="L"/><use xlink:href="#m" x="137" class="R"/><use xlink:href="#m" x="141" class="O"/><use xlink:href="#m" x="314" class="L"/><use xlink:href="#m" x="339" class="G"/><use xlink:href="#m" x="443" class="LG"/><use xlink:href="#m" x="467" class="G"/><use xlink:href="#m" x="511" class="LG"/><use xlink:href="#m" x="557" class="R"/><use xlink:href="#m" x="681" class="L"/></g></g>
<g id="PdMADS65" transform="translate(0,512.4)"><text class="lb" x="39" y="2">PdMADS65</text><use xlink:href="#ln" class="bl"/><g transform="translate(38,0) scale(0.33333,1)"><use xlink:href="#m" x="35" class="T"/><use xlink:href="#m" x="44" class="MA"/><use xlink:href="#m" x="89" class="L"/><use xlink:href="#m" x="264" class="GO"/><use xlink:href="#m" x="318" class="Y"/><use xlink:href="#m" x="508" class="PE"/><use xlink:href="#m" x="677" class="L"/></g></g>
<g id="PdMADS66" transform="translate(0,520.25)"><text class="lb" x="39" y="2">PdMADS66</text><use xlink:href="#ln" class="bl"/><g transform="translate(38,0) scale(0.33333,1)"><use xlink:href="#m" x="17" class="M"/><use xlink:href="#m" x="46" class="L"/><use xlink:href="#m" x="70" class="O"/><use xlink:href="#m" x="110" class="PK"/><use xlink:href="#m" x="141" class="MA"/><use xlink:href="#m" x="186" class="Y"/><use xlink:href="#m" x="317" class="PE"/><use xlink:href="#m" x="403" class="R"/><use xlink:href="#m" x="413" class="L"/><use xlink:href="#m" x="497" class="L"/><use xlink:href="#m" x="576" class="N"/><use xlink:href="#m" x="612" class="PE"/><use xlink:href="#m" x="649" class="PK"/><use xlink:href="#m" x="663" class="L"/></g></g>
<g id="PdMADS67" transform="translate(0,528.1)"><text class="lb" x="39" y="2">PdMADS67</text><use xlink:href="#ln" class="bl"/><g transform="translate(38,0) scale(0.33333,1)"><use xlink:href="#m" x="95" class="Y"/><use xlink:href="#m" x="305" class="L"/><use xlink:href="#m" x="350" class="PE"/><use xlink:href="#m" x="376" class="Y"/><use xlink:href="#m" x="381" class="O"/><use xlink:href="#m" x="448" class="B"/><use xlink:href="#m" x="484" class="G"/><use xlink:href="#m" x="490" class="G"/><use xlink:href="#m" x="576" class="L"/><use xlink:href="#m" x="594" class="L"/><use xlink:href="#m" x="608" class="L"/><use xlink:href="#m" x="638" class="LG"/><use xlink:href="#m" x="689" class="L"/></g></g>
</g>
<g id="axis">
<path class="axl" d="M40.3 538H269.2M40.3 538v1.6M63.19 538v1.6M86.08 538v1.6M108.97 538v1.6M131.86 538v1.6M154.75 538v1.6M177.64 538v1.6M200.53 538v1.6M223.42 538v1.6M246.31 538v1.6M269.2 538v1.6"/>
<text class="ax" x="37.8" y="535.5">5'</text>
<text class="ax" x="271.8" y="535.5">3'</text>
<text class="ax" x="40.3" y="544.5">0</text>
<text class="ax" x="63.19" y="544.5">200</text>
<text class="ax" x="86.08" y="544.5">400</text>
<text class="ax" x="108.97" y="544.5">600</text>
<text class="ax" x="131.86" y="544.5">800</text>
<text class="ax" x="154.75" y="544.5">1000</text>
<text class="ax" x="177.64" y="544.5">1200</text>
<text class="ax" x="200.53" y="544.5">1400</text>
<text class="ax" x="223.42" y="544.5">1600</text>
<text class="ax" x="246.31" y="544.5">1800</text>
<text class="ax" x="269.2" y="544.5">2000</text>
</g>
<g id="legend">
<rect class="G" x="277.3" y="7.5" width="14.7" height="5"/><text class="lg" x="295" y="12.2">MBS</text>
<rect class="Y" x="277.3" y="15.35" width="14.7" height="5"/><text class="lg" x="295" y="20.05">ABRE</text>
<rect class="PK" x="277.3" y="23.2" width="14.7" height="5"/><text class="lg" x="295" y="27.9">TGACG-motif</text>
<rect class="T" x="277.3" y="31.05" width="14.7" height="5"/><text class="lg" x="295" y="35.75">CGTCA-motif</text>
<rect class="R" x="277.3" y="38.9" width="14.7" height="5"/><text class="lg" x="295" y="43.6">TC-rich repeats</text>
<rect class="L" x="277.3" y="46.75" width="14.7" height="5"/><text class="lg" x="295" y="51.45">ARE</text>
<rect class="LG" x="277.3" y="54.6" width="14.7" height="5"/><text class="lg" x="295" y="59.3">LTR</text>
<rect class="O" x="277.3" y="62.45" width="14.7" height="5"/><text class="lg" x="295" y="67.15">O2-site</text>
<rect class="DP" x="277.3" y="70.3" width="14.7" height="5"/><text class="lg" x="295" y="75">GARE-motif</text>
<rect class="PE" x="277.3" y="78.15" width="14.7" height="5"/><text class="lg" x="295" y="82.85">CAT-box</text>
<rect class="GO" x="277.3" y="86" width="14.7" height="5"/><text class="lg" x="295" y="90.7">TGA-element</text>
<rect class="PB" x="277.3" y="93.85" width="14.7" height="5"/><text class="lg" x="295" y="98.55">P-box</text>
<rect class="M" x="277.3" y="101.7" width="14.7" height="5"/><text class="lg" x="295" y="106.4">AuxRR-core</text>
<rect class="SP" x="277.3" y="109.55" width="14.7" height="5"/><text class="lg" x="295" y="114.25">SARE</text>
<rect class="B" x="277.3" y="117.4" width="14.7" height="5"/><text class="lg" x="295" y="122.1">circadian</text>
<rect class="DR" x="277.3" y="125.25" width="14.7" height="5"/><text class="lg" x="295" y="129.95">AuxRE</text>
<rect class="MA" x="277.3" y="133.1" width="14.7" height="5"/><text class="lg" x="295" y="137.8">TCA-element</text>
<rect class="OL" x="277.3" y="140.95" width="14.7" height="5"/><text class="lg" x="295" y="145.65">GCN4_motif</text>
<rect class="N" x="277.3" y="148.8" width="14.7" height="5"/><text class="lg" x="295" y="153.5">RY-element</text>
<rect class="W" x="277.3" y="156.65" width="14.7" height="5"/><text class="lg" x="295" y="161.35">WUN-motif</text>
<rect class="LB" x="277.3" y="164.5" width="14.7" height="5"/><text class="lg" x="295" y="169.2">GC-motif</text>
<rect class="BB" x="277.3" y="172.35" width="14.7" height="5"/><text class="lg" x="295" y="177.05">TATC-box</text>
<rect class="DG" x="277.3" y="180.2" width="14.7" height="5"/><text class="lg" x="295" y="184.9">Unnamed_1</text>
<rect class="S" x="277.3" y="188.05" width="14.7" height="5"/><text class="lg" x="295" y="192.75">TGA-box</text>
<rect class="MB" x="277.3" y="195.9" width="14.7" height="5"/><text class="lg" x="295" y="200.6">MSA-like</text>
</g>
</svg>
